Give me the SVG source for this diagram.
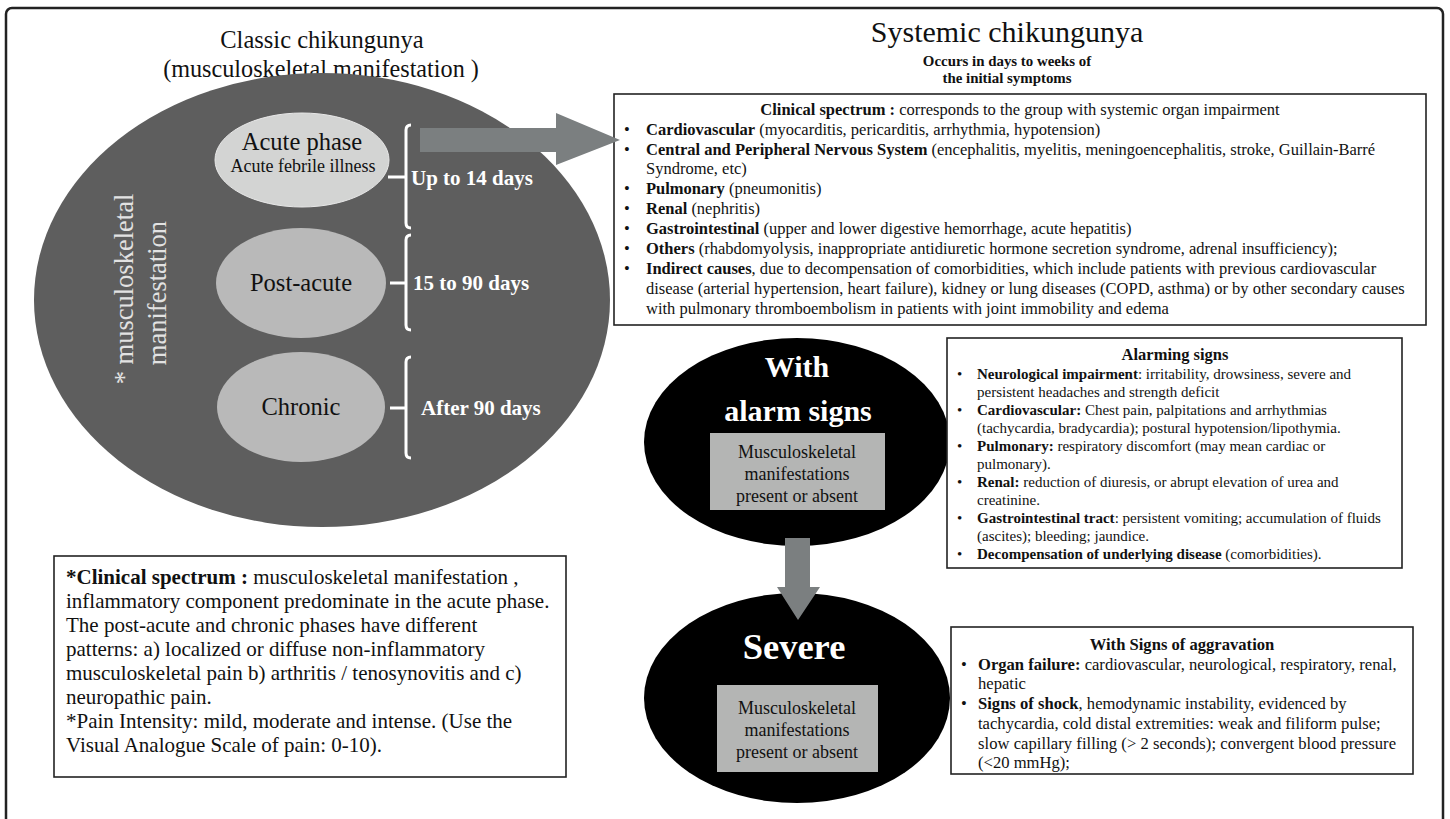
<svg xmlns="http://www.w3.org/2000/svg" width="1450" height="819" viewBox="0 0 1450 819">
<style>
text{font-family:"Liberation Serif","Times New Roman",serif;fill:#111}
.b{font-weight:bold}
.w{fill:#fff}
.box{fill:#fff;stroke:#222;stroke-width:1.6}
.br{fill:none;stroke:#fff;stroke-width:3}
.gray{fill:#b4b5b4}
.arr{fill:#7b7f80}
.s15{font-size:16.5px}
.s14{font-size:15px}
.s145{font-size:16.6px}
.s19{font-size:21px}
.d{font-size:21px;font-weight:bold;fill:#fff}
.ph{font-size:24.5px}
.ms{font-size:18px}
.m{text-anchor:middle}
.rot{font-size:26.5px;fill:#e2e2e2;text-anchor:middle}
</style>
<rect x="6" y="8" width="1437" height="840" rx="6" fill="#fff" stroke="#222" stroke-width="2.5"/>

<g id="classic">
<text x="322" y="48" class="m" font-size="24.5">Classic chikungunya</text>
<text x="321" y="77" class="m" font-size="24.2">(musculoskeletal manifestation )</text>
<ellipse cx="322" cy="300" rx="288" ry="227" fill="#5e5e5e"/>
<text transform="translate(133,289) rotate(-90)" class="rot">* musculoskeletal</text>
<text transform="translate(166,293) rotate(-90)" class="rot">manifestation</text>
</g>

<g id="acute">
<ellipse cx="302" cy="160" rx="87" ry="47" fill="#d3d4d3" stroke="#e8e8e8" stroke-width="1"/>
<text x="302" y="150" class="m ph">Acute phase</text>
<text x="303" y="172" class="m" font-size="18">Acute febrile illness</text>
<path class="br" d="M411,125 Q406,125 406,130 L406,223 Q406,228 411,228 M388,177 L406,177"/>
<text x="411" y="185" class="d">Up to 14 days</text>
</g>

<g id="postacute">
<ellipse cx="301" cy="283" rx="85" ry="55" fill="#b9b9b9"/>
<text x="301" y="291" class="m ph">Post-acute</text>
<path class="br" d="M411,235 Q406,235 406,240 L406,325 Q406,330 411,330 M390,283 L406,283"/>
<text x="413" y="290" class="d">15 to 90 days</text>
</g>

<g id="chronic">
<ellipse cx="301" cy="407" rx="84" ry="55" fill="#b9b9b9"/>
<text x="301" y="415" class="m ph">Chronic</text>
<path class="br" d="M411,357 Q406,357 406,362 L406,453 Q406,458 411,458 M390,408 L406,408"/>
<text x="421" y="415" class="d">After 90 days</text>
</g>

<g id="note">
<rect class="box" x="54" y="556" width="512" height="221"/>
<g class="s19">
<text x="66" y="584"><tspan class="b">*Clinical spectrum :</tspan> musculoskeletal manifestation ,</text>
<text x="66" y="608">inflammatory component predominate in the acute phase.</text>
<text x="66" y="632">The post-acute and chronic phases have different</text>
<text x="66" y="656">patterns: a) localized or diffuse non-inflammatory</text>
<text x="66" y="680">musculoskeletal pain b) arthritis / tenosynovitis and c)</text>
<text x="66" y="704">neuropathic pain.</text>
<text x="66" y="728">*Pain Intensity: mild, moderate and intense. (Use the</text>
<text x="66" y="752">Visual Analogue Scale of pain: 0-10).</text>
</g>
</g>

<g id="systemic">
<text x="1007" y="42" class="m" font-size="30">Systemic chikungunya</text>
<text x="1007" y="66" class="m b" font-size="14.9">Occurs in days to weeks of</text>
<text x="1007" y="83" class="m b" font-size="14.9">the initial symptoms</text>
</g>

<g id="spectrum">
<rect class="box" x="614" y="94" width="812" height="231"/>
<text x="1020" y="115" class="m s15"><tspan class="b">Clinical spectrum :</tspan> corresponds to the group with systemic organ impairment</text>
<g class="s15">
<text x="624" y="135">•</text><text x="646" y="135"><tspan class="b">Cardiovascular</tspan> (myocarditis, pericarditis, arrhythmia, hypotension)</text>
<text x="624" y="155">•</text><text x="646" y="155"><tspan class="b">Central and Peripheral Nervous System</tspan> (encephalitis, myelitis, meningoencephalitis, stroke, Guillain-Barré</text>
<text x="646" y="174">Syndrome, etc)</text>
<text x="624" y="194">•</text><text x="646" y="194"><tspan class="b">Pulmonary</tspan> (pneumonitis)</text>
<text x="624" y="214">•</text><text x="646" y="214"><tspan class="b">Renal</tspan> (nephritis)</text>
<text x="624" y="234">•</text><text x="646" y="234"><tspan class="b">Gastrointestinal</tspan> (upper and lower digestive hemorrhage, acute hepatitis)</text>
<text x="624" y="254">•</text><text x="646" y="254"><tspan class="b">Others</tspan> (rhabdomyolysis, inappropriate antidiuretic hormone secretion syndrome, adrenal insufficiency);</text>
<text x="624" y="274">•</text><text x="646" y="274"><tspan class="b">Indirect causes</tspan>, due to decompensation of comorbidities, which include patients with previous cardiovascular</text>
<text x="646" y="294">disease (arterial hypertension, heart failure), kidney or lung diseases (COPD, asthma) or by other secondary causes</text>
<text x="646" y="314">with pulmonary thromboembolism in patients with joint immobility and edema</text>
</g>
</g>

<g id="alarm">
<ellipse cx="797" cy="442" rx="153" ry="104" fill="#000"/>
<text x="797" y="377" class="m b w" font-size="30">With</text>
<text x="798" y="421" class="m b w" font-size="30">alarm signs</text>
<rect class="gray" x="710" y="433" width="175" height="77"/>
<text x="797" y="458" class="m ms">Musculoskeletal</text>
<text x="797" y="480" class="m ms">manifestations</text>
<text x="797" y="502" class="m ms">present or absent</text>
</g>

<g id="severe">
<ellipse cx="797" cy="698" rx="153" ry="105" fill="#000"/>
<text x="794" y="659" class="m b w" font-size="36.5">Severe</text>
<rect class="gray" x="717" y="685" width="161" height="87"/>
<text x="797" y="714" class="m ms">Musculoskeletal</text>
<text x="797" y="736" class="m ms">manifestations</text>
<text x="797" y="758" class="m ms">present or absent</text>
</g>

<g id="alarming-signs">
<rect class="box" x="947" y="338" width="455" height="230"/>
<text x="1175" y="360" class="m b" font-size="16.5">Alarming signs</text>
<g class="s14">
<text x="957" y="379">•</text><text x="977" y="379"><tspan class="b">Neurological impairment</tspan>: irritability, drowsiness, severe and</text>
<text x="977" y="397">persistent headaches and strength deficit</text>
<text x="957" y="415">•</text><text x="977" y="415"><tspan class="b">Cardiovascular:</tspan> Chest pain, palpitations and arrhythmias</text>
<text x="977" y="433">(tachycardia, bradycardia); postural hypotension/lipothymia.</text>
<text x="957" y="451">•</text><text x="977" y="451"><tspan class="b">Pulmonary:</tspan> respiratory discomfort (may mean cardiac or</text>
<text x="977" y="469">pulmonary).</text>
<text x="957" y="487">•</text><text x="977" y="487"><tspan class="b">Renal:</tspan> reduction of diuresis, or abrupt elevation of urea and</text>
<text x="977" y="505">creatinine.</text>
<text x="957" y="523">•</text><text x="977" y="523"><tspan class="b">Gastrointestinal tract</tspan>: persistent vomiting; accumulation of fluids</text>
<text x="977" y="541">(ascites); bleeding; jaundice.</text>
<text x="957" y="559">•</text><text x="977" y="559"><tspan class="b">Decompensation of underlying disease</tspan> (comorbidities).</text>
</g>
</g>

<g id="aggravation">
<rect class="box" x="951" y="627" width="462" height="147"/>
<text x="1182" y="650" class="m b s145">With Signs of aggravation</text>
<g class="s145">
<text x="961" y="670">•</text><text x="978" y="670"><tspan class="b">Organ failure:</tspan> cardiovascular, neurological, respiratory, renal,</text>
<text x="978" y="689">hepatic</text>
<text x="961" y="709">•</text><text x="978" y="709"><tspan class="b">Signs of shock</tspan>, hemodynamic instability, evidenced by</text>
<text x="978" y="729">tachycardia, cold distal extremities: weak and filiform pulse;</text>
<text x="978" y="749" textLength="418" lengthAdjust="spacing">slow capillary filling (&gt; 2 seconds); convergent blood pressure</text>
<text x="978" y="768">(&lt;20 mmHg);</text>
</g>
</g>

<g id="connectors">
<path class="arr" d="M420,128 L556,128 L556,113 L620,140 L556,165 L556,152 L420,152 Z"/>
<path class="arr" d="M785,538 L810,538 L810,587 L820,587 L798,620 L777,587 L785,587 Z"/>
</g>
</svg>
